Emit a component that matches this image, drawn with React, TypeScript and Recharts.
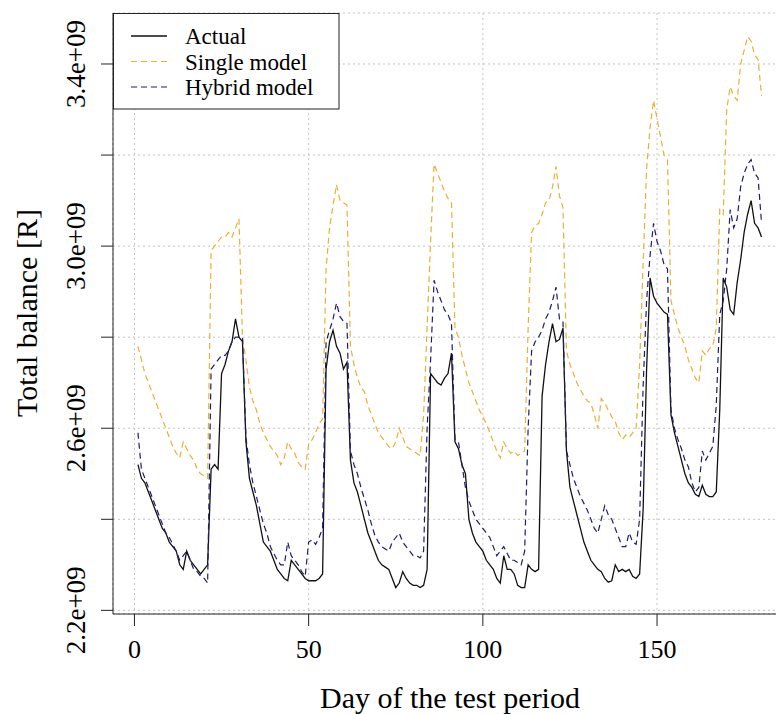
import { LineChart, Line, XAxis, YAxis, CartesianGrid } from 'recharts'

// values in units of 1e9, one per day of the test period (days 1..180)
const ACTUAL = [
  2.52, 2.49, 2.48, 2.46, 2.44, 2.42, 2.40, 2.38, 2.37, 2.35,
  2.34, 2.33, 2.30, 2.29, 2.33, 2.31, 2.30, 2.29, 2.28, 2.29,
  2.30, 2.51, 2.52, 2.51, 2.72, 2.74, 2.77, 2.79, 2.84, 2.80,
  2.79, 2.57, 2.49, 2.46, 2.43, 2.39, 2.35, 2.34, 2.33, 2.31,
  2.29, 2.28, 2.27, 2.265, 2.31, 2.30, 2.29, 2.28, 2.27, 2.265,
  2.265, 2.265, 2.27, 2.28, 2.73, 2.79, 2.815, 2.78, 2.765, 2.73,
  2.745, 2.53, 2.48, 2.46, 2.43, 2.40, 2.37, 2.35, 2.33, 2.31,
  2.30, 2.295, 2.29, 2.27, 2.25, 2.26, 2.285, 2.27, 2.26, 2.255,
  2.255, 2.25, 2.255, 2.29, 2.72, 2.71, 2.70, 2.695, 2.71, 2.72,
  2.765, 2.57, 2.555, 2.52, 2.50, 2.40, 2.37, 2.35, 2.34, 2.33,
  2.31, 2.30, 2.29, 2.27, 2.26, 2.32, 2.29, 2.29, 2.28, 2.255,
  2.25, 2.25, 2.30, 2.29, 2.285, 2.29, 2.67, 2.74, 2.79, 2.83,
  2.79, 2.795, 2.82, 2.55, 2.47, 2.44, 2.41, 2.38, 2.35, 2.33,
  2.31, 2.30, 2.29, 2.285, 2.27, 2.262, 2.265, 2.30, 2.285, 2.29,
  2.285, 2.29, 2.275, 2.27, 2.28, 2.42, 2.73, 2.93, 2.89, 2.875,
  2.865, 2.855, 2.85, 2.63, 2.59, 2.56, 2.53, 2.50, 2.48, 2.47,
  2.455, 2.45, 2.475, 2.455, 2.45, 2.45, 2.46, 2.64, 2.93, 2.91,
  2.86, 2.85, 2.92, 2.97, 3.03, 3.07, 3.10, 3.05, 3.04, 3.02,
]

const SINGLE = [
  2.78, 2.75, 2.72, 2.70, 2.68, 2.66, 2.64, 2.62, 2.60, 2.58,
  2.56, 2.545, 2.535, 2.57, 2.555, 2.54, 2.53, 2.51, 2.50, 2.495,
  2.49, 2.99, 3.00, 3.01, 3.02, 3.02, 3.03, 3.02, 3.04, 3.06,
  2.80, 2.75, 2.69, 2.66, 2.64, 2.61, 2.59, 2.575, 2.56, 2.55,
  2.54, 2.52, 2.535, 2.57, 2.555, 2.545, 2.525, 2.515, 2.51, 2.565,
  2.575, 2.59, 2.61, 2.62, 2.95, 3.04, 3.09, 3.135, 3.10, 3.095,
  3.09, 2.78, 2.74, 2.71, 2.69, 2.68, 2.65, 2.63, 2.61, 2.59,
  2.58, 2.57, 2.56, 2.555, 2.57, 2.60, 2.58, 2.56, 2.555, 2.55,
  2.545, 2.54, 2.63, 2.82, 3.01, 3.18, 3.16, 3.14, 3.12, 3.105,
  3.095, 2.82, 2.80, 2.76, 2.73, 2.70, 2.68, 2.66, 2.64, 2.625,
  2.61, 2.59, 2.57, 2.55, 2.535, 2.57, 2.555, 2.545, 2.55, 2.54,
  2.545, 2.55, 2.82, 3.03, 3.045, 3.05, 3.07, 3.095, 3.10, 3.13,
  3.175, 3.11, 3.085, 2.77, 2.74, 2.72, 2.70, 2.685, 2.67, 2.66,
  2.655, 2.63, 2.60, 2.665, 2.655, 2.64, 2.625, 2.615, 2.59, 2.575,
  2.585, 2.58, 2.59, 2.60, 2.74, 2.96, 3.17, 3.26, 3.32, 3.28,
  3.24, 3.20, 3.19, 2.88, 2.85, 2.82, 2.80, 2.78, 2.75, 2.73,
  2.71, 2.70, 2.77, 2.76, 2.775, 2.78, 2.82, 3.08, 3.07, 3.30,
  3.35, 3.33, 3.32, 3.40, 3.43, 3.46, 3.45, 3.42, 3.41, 3.33,
]

const HYBRID = [
  2.59, 2.51, 2.49, 2.47, 2.45, 2.43, 2.41, 2.39, 2.37, 2.36,
  2.345, 2.33, 2.31, 2.32, 2.33, 2.31, 2.29, 2.285, 2.275, 2.27,
  2.26, 2.73, 2.74, 2.75, 2.76, 2.76, 2.77, 2.79, 2.80, 2.80,
  2.80, 2.58, 2.52, 2.48, 2.45, 2.42, 2.39, 2.37, 2.34, 2.325,
  2.31, 2.30, 2.30, 2.35, 2.32, 2.31, 2.30, 2.285, 2.275, 2.35,
  2.355, 2.345, 2.36, 2.38, 2.79, 2.815, 2.84, 2.875, 2.845, 2.835,
  2.83, 2.55, 2.52, 2.50, 2.47, 2.445, 2.42, 2.39, 2.365, 2.35,
  2.34, 2.335, 2.33, 2.35, 2.36, 2.37, 2.35, 2.34, 2.33, 2.32,
  2.32, 2.315, 2.33, 2.60, 2.75, 2.925, 2.90, 2.88, 2.86, 2.85,
  2.83, 2.575, 2.57, 2.52, 2.47, 2.44, 2.42, 2.40, 2.39, 2.38,
  2.37, 2.36, 2.34, 2.32, 2.33, 2.34, 2.325, 2.31, 2.31, 2.305,
  2.30, 2.33, 2.60, 2.77, 2.79, 2.80, 2.815, 2.84, 2.855, 2.88,
  2.91, 2.84, 2.835, 2.55, 2.52, 2.49, 2.47, 2.45, 2.435, 2.42,
  2.40, 2.38, 2.37, 2.40, 2.43, 2.41, 2.40, 2.38, 2.36, 2.34,
  2.34, 2.37, 2.35, 2.345, 2.40, 2.69, 2.88, 2.98, 3.05, 3.01,
  2.99, 2.96, 2.95, 2.64, 2.60, 2.575, 2.555, 2.53, 2.515, 2.48,
  2.46, 2.47, 2.55, 2.53, 2.545, 2.56, 2.65, 2.85, 2.88, 2.95,
  3.08, 3.04, 3.06, 3.13, 3.16, 3.18, 3.19, 3.16, 3.15, 3.05,
]

const X_TICKS = [0, 50, 100, 150]
const Y_TICKS = [2.2, 2.4, 2.6, 2.8, 3.0, 3.2, 3.4]
const Y_LABELS = ['2.2e+09', '', '2.6e+09', '', '3.0e+09', '', '3.4e+09']

const SERIES = [
  { key: 'actual', name: 'Actual', color: '#111111', dash: undefined as string | undefined, width: 1.3 },
  { key: 'single', name: 'Single model', color: '#E8B033', dash: '6 4', width: 1.2 },
  { key: 'hybrid', name: 'Hybrid model', color: '#1C1C70', dash: '6 4', width: 1.2 },
]

const FONT = '"Liberation Serif", "Times New Roman", serif'

const data = ACTUAL.map((a, i) => ({
  day: i + 1,
  actual: a,
  single: SINGLE[i],
  hybrid: HYBRID[i],
}))

function YTick({ y, payload }: any) {
  const idx = Y_TICKS.findIndex((t) => Math.abs(t - payload.value) < 1e-6)
  const label = idx >= 0 ? Y_LABELS[idx] : ''
  if (!label) return null
  return (
    <text x={85} y={y} transform={`rotate(-90, 85, ${y})`} textAnchor="middle" fontFamily={FONT} fontSize={27} fill="#000">
      {label}
    </text>
  )
}

function XTick({ x, payload }: any) {
  return (
    <text x={x} y={658} textAnchor="middle" fontFamily={FONT} fontSize={26} fill="#000">
      {payload.value}
    </text>
  )
}

export default function App() {
  return (
    <div style={{ position: 'fixed', left: 0, top: 0, width: 776, height: 714, overflow: 'hidden', background: '#fff' }}>
      <LineChart width={800} height={714} data={data} margin={{ top: 13, right: 13.5, bottom: 0, left: 0 }}>
        <CartesianGrid stroke="#c4c4c4" strokeDasharray="2 3" />
        <XAxis
          dataKey="day"
          type="number"
          domain={[-6.16, 187.16]}
          ticks={X_TICKS}
          allowDataOverflow
          height={100}
          tickSize={12}
          tick={<XTick />}
          axisLine={{ stroke: '#222' }}
          tickLine={{ stroke: '#222' }}
        />
        <XAxis
          xAxisId="top"
          orientation="top"
          dataKey="day"
          type="number"
          domain={[-6.16, 187.16]}
          height={0}
          tick={false}
          tickLine={false}
          axisLine={{ stroke: '#222' }}
        />
        <YAxis
          type="number"
          domain={[2.192, 3.512]}
          ticks={Y_TICKS}
          allowDataOverflow
          width={113}
          tickSize={12}
          tick={<YTick />}
          axisLine={{ stroke: '#222' }}
          tickLine={{ stroke: '#222' }}
        />
        {SERIES.map((s) => (
          <Line
            key={s.key}
            dataKey={s.key}
            type="linear"
            stroke={s.color}
            strokeWidth={s.width}
            strokeDasharray={s.dash}
            dot={false}
            activeDot={false}
            isAnimationActive={false}
          />
        ))}
      </LineChart>
      <svg width={776} height={714} style={{ position: 'absolute', left: 0, top: 0, pointerEvents: 'none' }}>
        <rect x={113.5} y={13.5} width={225.5} height={95.5} fill="#fff" stroke="#222" strokeWidth={1} />
        {SERIES.map((s, i) => (
          <g key={s.key}>
            <line x1={131} x2={167} y1={36 + i * 25.5} y2={36 + i * 25.5} stroke={s.color} strokeWidth={s.width} strokeDasharray={s.dash} />
            <text x={185} y={44 + i * 25.5} fontFamily={FONT} fontSize={23} fill="#000">
              {s.name}
            </text>
          </g>
        ))}
        <text x={450} y={708} textAnchor="middle" fontFamily={FONT} fontSize={30} fill="#000">
          Day of the test period
        </text>
        <text x={37} y={313} transform="rotate(-90, 37, 313)" textAnchor="middle" fontFamily={FONT} fontSize={30} fill="#000">
          Total balance [R]
        </text>
      </svg>
    </div>
  )
}
